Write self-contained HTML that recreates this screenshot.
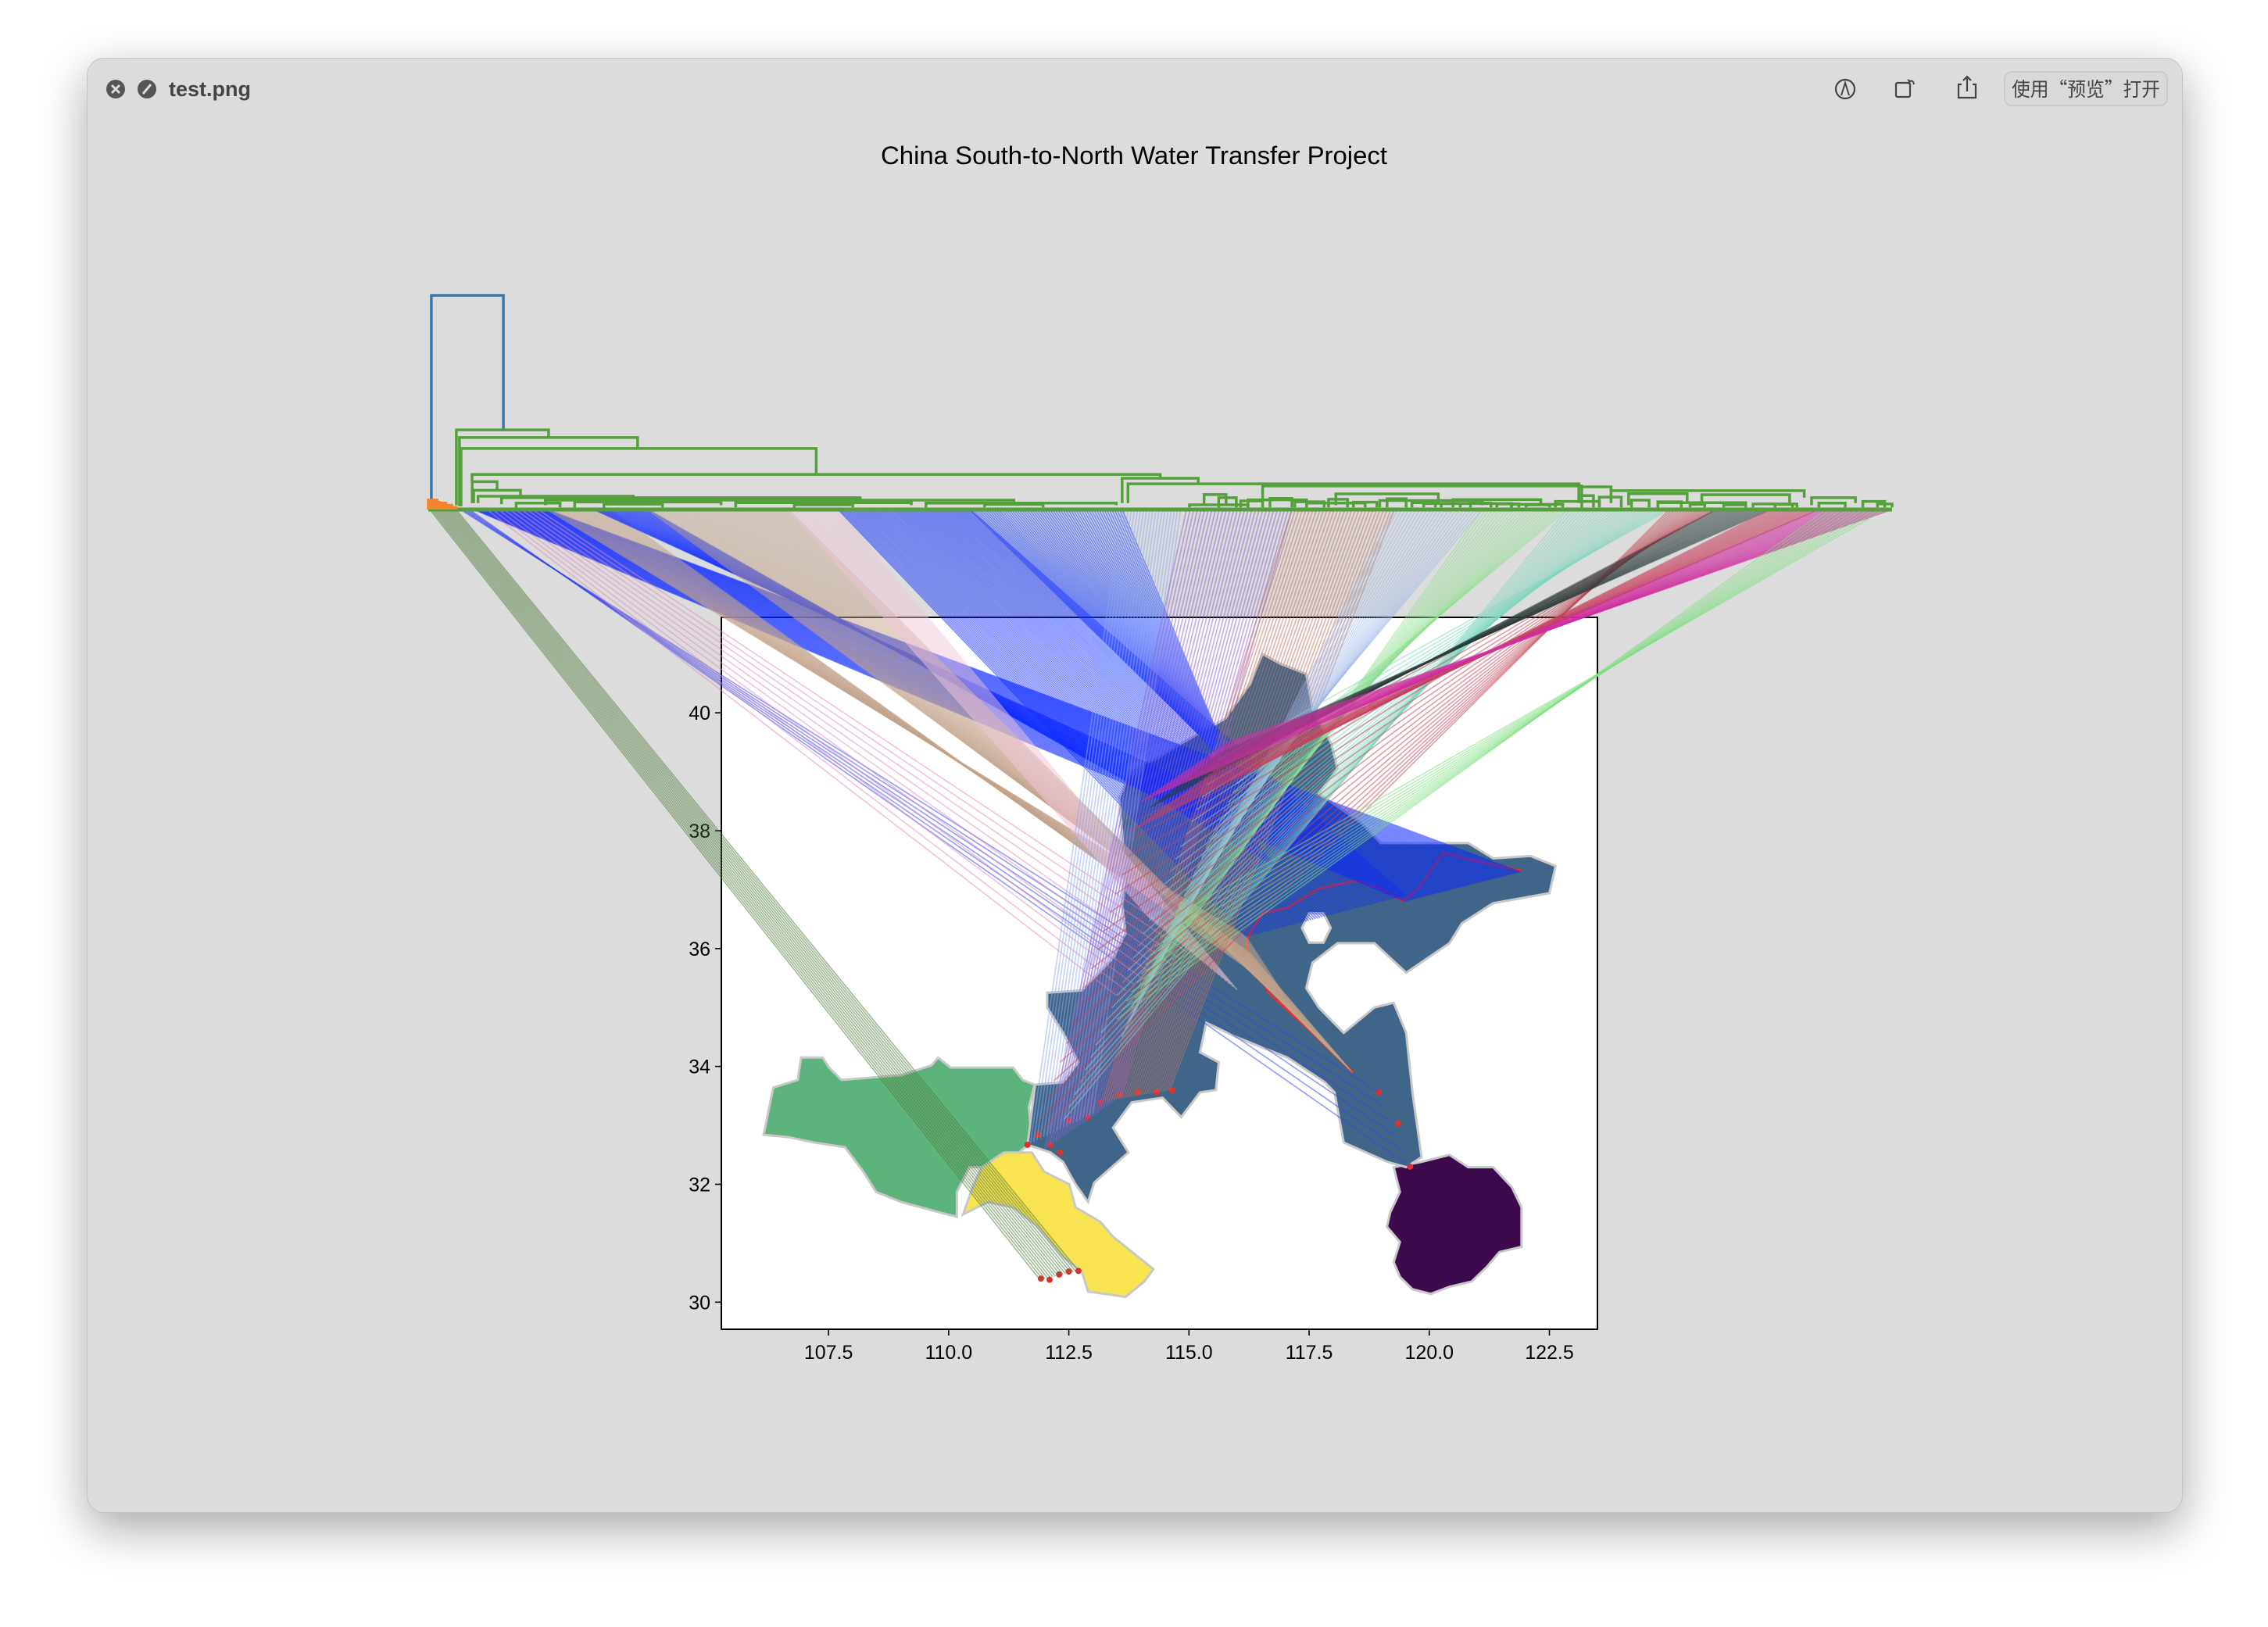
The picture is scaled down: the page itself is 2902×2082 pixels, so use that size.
<!DOCTYPE html>
<html><head><meta charset="utf-8"><style>
html,body{margin:0;padding:0;background:#fff;}
body{width:2902px;height:2082px;overflow:hidden;position:relative;font-family:"Liberation Sans","Noto Sans CJK SC",sans-serif;}
#win{position:absolute;left:111px;top:74px;width:2680px;height:1860px;background:#dbdcdb;border-radius:22px;box-shadow:0 20px 60px rgba(0,0,0,0.35);border:1px solid #c4c4c4;}
</style></head><body>
<div id="win"></div>
<svg id="svg" width="2902" height="2082" style="position:absolute;left:0;top:0" xmlns="http://www.w3.org/2000/svg">
<g>
 <circle cx="148" cy="114" r="12" fill="#555"/>
 <path d="M143 109 L153 119 M153 109 L143 119" stroke="#dbdcdb" stroke-width="3"/>
 <circle cx="188" cy="114" r="12" fill="#555"/>
 <path d="M183 120 L193 108" stroke="#dbdcdb" stroke-width="3"/>
 <text x="216" y="123" font-size="27" font-weight="bold" fill="#444">test.png</text>
 <g><circle cx="2361" cy="114" r="12" fill="none" stroke="#444" stroke-width="2.2"/><path d="M2356 122 L2361 106 L2366 122" fill="none" stroke="#444" stroke-width="2"/></g>
 <g><rect x="2426" y="106" width="18" height="18" rx="2" fill="none" stroke="#444" stroke-width="2.2"/><path d="M2444 104 Q2448 102 2449 108 M2441 102 L2444 104 L2441 107" fill="none" stroke="#444" stroke-width="2"/></g>
 <g><path d="M2510 108 L2506 108 L2506 125 L2528 125 L2528 108 L2524 108 M2517 117 L2517 98 M2512 103 L2517 98 L2522 103" fill="none" stroke="#444" stroke-width="2.2"/></g>
 <rect x="2565" y="92" width="208" height="43" rx="9" fill="#d8d9d8" stroke="#cacaca" stroke-width="2"/>
 <text x="2669" y="123" font-size="25" text-anchor="middle" fill="#444" font-family="'Noto Sans CJK SC',sans-serif" textLength="190" lengthAdjust="spacingAndGlyphs">使用“预览”打开</text>
</g>
<text x="1451" y="210" font-size="32" text-anchor="middle" fill="#000" textLength="648" lengthAdjust="spacingAndGlyphs">China South-to-North Water Transfer Project</text>
<g id="mapg"></g>
<g id="lines"></g>
<g id="dendro"></g>
</svg>
<script>
const NS="http://www.w3.org/2000/svg";
// ---- axis data ----
const xTicks=[107.5,110.0,112.5,115.0,117.5,120.0,122.5];
const yTicks=[30,32,34,36,38,40];
const lonRange=[105.27,123.5];
const latRange=[29.54,41.62];
// ---- region polygons (lon,lat) ----
const greenRegion=[[106.15,32.84],[106.35,33.64],[106.86,33.77],[106.93,34.15],[107.38,34.15],[107.51,33.98],[107.77,33.77],[109.01,33.85],[109.65,34.02],[109.78,34.15],[110.04,33.98],[111.34,33.98],[111.54,33.77],[111.79,33.69],[111.67,33.31],[111.73,32.72],[111.34,32.46],[111.08,32.29],[110.43,32.29],[110.17,31.87],[110.17,31.45],[109.78,31.53],[109.01,31.70],[108.49,31.87],[108.23,32.21],[107.84,32.63],[107.19,32.71],[106.67,32.80]];
const yellowRegion=[[111.15,32.54],[111.73,32.54],[111.99,32.21],[112.51,32.00],[112.64,31.61],[113.16,31.36],[113.42,31.11],[114.26,30.56],[114.07,30.35],[113.68,30.09],[112.90,30.18],[112.77,30.52],[112.38,30.77],[111.86,31.28],[111.34,31.61],[110.82,31.70],[110.30,31.49],[110.50,31.95],[110.69,32.29]];
const purpleRegion=[[119.26,32.29],[119.84,32.38],[120.42,32.50],[120.81,32.29],[121.33,32.29],[121.72,31.95],[121.92,31.61],[121.92,30.94],[121.46,30.85],[121.20,30.60],[120.88,30.35],[120.42,30.26],[120.03,30.14],[119.65,30.22],[119.39,30.43],[119.26,30.68],[119.39,31.02],[119.12,31.28],[119.19,31.53],[119.39,31.87]];
const blueRegion=[[111.64,32.67],[111.80,33.69],[112.38,33.73],[112.70,34.07],[112.38,34.57],[112.05,35.0],[112.05,35.25],[112.77,35.29],[113.42,35.84],[113.68,36.26],[113.61,36.77],[113.68,37.28],[113.55,38.55],[113.81,39.05],[114.33,39.22],[114.84,39.48],[115.75,39.90],[116.27,40.49],[116.53,41.0],[116.91,40.83],[117.44,40.66],[117.57,40.07],[117.96,39.48],[118.09,39.05],[117.70,38.63],[118.60,38.12],[118.99,37.79],[120.16,37.79],[120.81,37.79],[121.33,37.53],[122.11,37.57],[122.63,37.40],[122.50,36.94],[121.33,36.77],[120.68,36.43],[120.42,36.09],[119.52,35.59],[118.86,36.09],[118.09,36.09],[117.57,35.76],[117.44,35.33],[117.70,35.0],[118.22,34.57],[118.86,35.0],[119.26,35.08],[119.52,34.57],[119.65,33.56],[119.84,32.46],[119.52,32.29],[119.13,32.38],[118.22,32.71],[118.03,33.56],[117.83,33.73],[117.05,34.15],[116.01,34.49],[115.36,34.74],[115.23,34.24],[115.62,34.07],[115.56,33.60],[115.23,33.56],[114.84,33.14],[114.45,33.47],[113.81,33.39],[113.42,32.96],[113.74,32.54],[113.03,32.03],[112.90,31.70],[112.64,32.0],[112.38,32.38],[112.12,32.54]];
const holeRegion=[[117.35,36.35],[117.5,36.6],[117.8,36.6],[117.95,36.35],[117.8,36.1],[117.5,36.1]];
const canalNorth=[[116.21,36.18],[116.53,36.60],[117.05,36.69],[117.70,37.02],[118.48,37.15],[118.99,37.02],[119.45,36.81],[119.77,37.02],[120.29,37.62],[120.94,37.49],[121.92,37.32]];
const canalDiag=[[116.21,36.18],[116.21,35.93],[116.66,35.25],[117.57,34.57],[118.41,33.90]];
const southDots=[[111.64,32.67],[111.86,32.84],[112.12,32.67],[112.32,32.54],[112.51,33.09],[112.90,33.14],[113.16,33.39],[113.55,33.52],[113.94,33.56],[114.33,33.56],[114.65,33.60],[111.92,30.40],[112.1,30.38],[112.3,30.47],[112.5,30.52],[112.7,30.53],[118.95,33.56],[119.35,33.03],[119.6,32.3]];
// ---- dendrogram data: [leafLeft, leafRight, height, leftChildHeight, rightChildHeight] ----
const dLinks=[[2.1,51.3,100,4.4,37.2],[19.2,82.2,37.2,2,33.6],[21.3,143,33.6,1.5,28.5],[22.4,265,28.5,1.5,16.4],[29.9,500,16.4,13,14.6],[474,526,14.6,3,12],[478,786,12,3,10.6],[570,788,11,3,6],[786,808,10.6,3,8.8],[808,940,8.8,3,5.5],[30,47,13,3,9],[31,63,9,3,6.2],[34,140,6.2,3,5.5],[50,295,5.5,2.5,4.4],[80,400,4.4,2,3],[100,200,3.5,1,2],[210,330,3.2,1,2],[340,470,3,1,2],[380,420,2.4,1,1],[250,290,2.2,0.5,1],[120,160,2.5,0.5,1],[60,90,3,0.5,1],[530,545,7,2,2],[620,690,7.3,2,3],[700,760,4.6,1,2],[560,600,4.5,1,2],[650,720,4.2,1,2],[770,800,3.8,1,2],[820,860,7.4,2,3],[870,930,6.9,2,3],[945,975,5.5,2,3],[980,995,3.8,1,1],[600,640,3,1,1],[680,740,2.8,1,1],[840,900,3.2,1,1],[905,935,2.6,1,1],[740,775,2.4,1,1],[520,560,2.2,1,1],
 [540,552,5.5,1,1],[555,570,4,1,1],[575,590,5.2,1,1],[592,612,3.6,1,1],[615,628,4.8,1,1],[632,648,3.4,1,1],[655,668,5,1,1],[672,688,3.2,1,1],[692,705,2.8,1,1],[712,726,3,1,1],[730,745,2.6,1,1],[750,766,2.2,1,1],[788,796,6.5,1,1],[800,815,5.8,1,1],[822,834,4.4,1,1],[840,856,3.6,1,1],[862,872,2.4,1,1],[885,900,2.2,1,1],[920,932,2.4,1,1],[950,968,3,1,1],[990,1000,2.6,1,1]];
const orangeLinks=[[0,6,4.4,0,2],[3,12,3,0,1.5],[8,16,2,0,0.5],[12,19,1,0,0]];
// ---- connection bundles: [leafStart, leafEnd, lon0, lat0, lon1, lat1, count, color] ----
const bundles=[
 [1,19,111.9,30.38,112.7,30.53,16,"#4f7a3c"],
 [22,28,118.95,33.56,119.6,32.3,6,"#3344ee"],
 [31,81,119.5,36.8,121.9,37.3,60,"#0a28ff"],
 [40,75,113.5,35.2,115.2,36.0,10,"#e888c0"],
 [81,124,116.2,36.2,117.0,35.2,30,"#c4a38c"],
 [113,150,115.6,38.6,116.8,37.4,30,"#0a28ff"],
 [150,246,116.3,35.9,118.4,33.9,55,"#c4a38c"],
 [246,280,114.2,36.5,116.0,35.3,25,"#f0c6d8"],
 [280,370,116.2,36.2,119.5,36.9,70,"#0a28ff"],
 [370,474,115.5,39.4,116.1,38.7,60,"#1a3cff"],
 [474,514,111.7,32.7,113.0,33.2,20,"#90a8f0"],
 [518,590,112.0,32.6,113.6,33.5,30,"#9060d0"],
 [590,660,113.2,33.4,114.6,33.6,30,"#c07060"],
 [660,720,113.6,34.5,115.5,38.0,25,"#a0b8e8"],
 [720,778,113.8,35.0,116.0,38.8,25,"#90e090"],
 [778,848,112.4,33.1,115.6,39.2,30,"#80d8c0"],
 [848,880,111.8,32.8,114.0,38.2,18,"#c04858"],
 [880,917,114.2,38.4,115.6,39.3,20,"#2c3c3c"],
 [917,950,113.8,38.0,115.5,39.0,18,"#c84060"],
 [950,1000,114.0,38.5,115.8,39.5,25,"#d030a0"],
 [955,995,113.5,34.8,114.6,36.5,12,"#80e080"]
];
// ---- scales ----
const AX={l:923,r:2044,t:790,b:1701};
function X(lon){return AX.l+(lon-lonRange[0])/(lonRange[1]-lonRange[0])*(AX.r-AX.l);}
function Y(lat){return AX.b-(lat-latRange[0])/(latRange[1]-latRange[0])*(AX.b-AX.t);}
function LX(leaf){return 548+leaf*1.873;}
function HY(h){return 652-h*2.74;}
function mk(tag,attrs,parent){const e=document.createElementNS(NS,tag);for(const k in attrs)e.setAttribute(k,attrs[k]);parent.appendChild(e);return e;}
const mapg=document.getElementById('mapg');
let e=mk('rect',{x:AX.l,y:AX.t,width:AX.r-AX.l,height:AX.b-AX.t,fill:'#fff'},mapg);


function poly(pts,fill,name){const p=mk('polygon',{points:pts.map(q=>X(q[0])+','+Y(q[1])).join(' '),fill:fill,stroke:'#c8c8c8','stroke-width':3},mapg);
 
 }
poly(greenRegion,'#5cb47c','region-green');
poly(yellowRegion,'#f8e350','region-yellow');
poly(purpleRegion,'#3e0a4e','region-purple');
poly(blueRegion,'#3f6689','region-blue');
poly(holeRegion,'#ffffff','region-hole');
function pline(pts,name){const p=mk('polyline',{points:pts.map(q=>X(q[0])+','+Y(q[1])).join(' '),fill:'none',stroke:'#e8302a','stroke-width':3},mapg);
 
 }
pline(canalNorth,'canal-north');
pline(canalDiag,'canal-diagonal');
southDots.forEach(d=>{const c=mk('circle',{cx:X(d[0]),cy:Y(d[1]),r:4,fill:'#e0302a'},mapg);
 
 });
e=mk('rect',{x:AX.l,y:AX.t,width:AX.r-AX.l,height:AX.b-AX.t,fill:'none',stroke:'#000','stroke-width':2},mapg);


xTicks.forEach(t=>{const x=X(t);mk('line',{x1:x,x2:x,y1:AX.b,y2:AX.b+8,stroke:'#000','stroke-width':1.6},mapg);
 const tx=mk('text',{x:x,y:AX.b+38,'font-size':25,'text-anchor':'middle',fill:'#000'},mapg);tx.textContent=t.toFixed(1);
 
 });
yTicks.forEach(t=>{const y=Y(t);mk('line',{x1:AX.l-8,x2:AX.l,y1:y,y2:y,stroke:'#000','stroke-width':1.6},mapg);
 const tx=mk('text',{x:AX.l-14,y:y+9,'font-size':25,'text-anchor':'end',fill:'#000'},mapg);tx.textContent=t;
 
 });
// connection lines
const lg=document.getElementById('lines');
bundles.forEach(b=>{const n=b[6];for(let i=0;i<n;i++){const t=n>1?i/(n-1):0;
 const x1=LX(b[0]+(b[1]-b[0])*t),lon=b[2]+(b[4]-b[2])*t,lat=b[3]+(b[5]-b[3])*t;
 const l=mk('line',{x1:x1,y1:652,x2:X(lon),y2:Y(lat),stroke:b[7],'stroke-width':1.7,'stroke-opacity':0.5},lg);
 
 }});
// dendrogram
const dg=document.getElementById('dendro');
mk('line',{x1:LX(0),x2:LX(1000),y1:652,y2:652,stroke:'#55a03c','stroke-width':5},dg);
function link(L,color){const xl=LX(L[0]),xr=LX(L[1]);
 const p=mk('path',{d:`M${xl} ${HY(L[3])} L${xl} ${HY(L[2])} L${xr} ${HY(L[2])} L${xr} ${HY(L[4])}`,fill:'none',stroke:color,'stroke-width':3.5},dg);
 
 }
dLinks.forEach((L,i)=>link(L,i===0?'#3a78b0':'#55a03c'));
orangeLinks.forEach(L=>link(L,'#f5842a'));
e=mk('polygon',{points:`${LX(0)},652 ${LX(0)},${HY(4.4)} ${LX(8)},${HY(4)} ${LX(19)},652`,fill:'#f5842a'},dg);


</script>
</body></html>
